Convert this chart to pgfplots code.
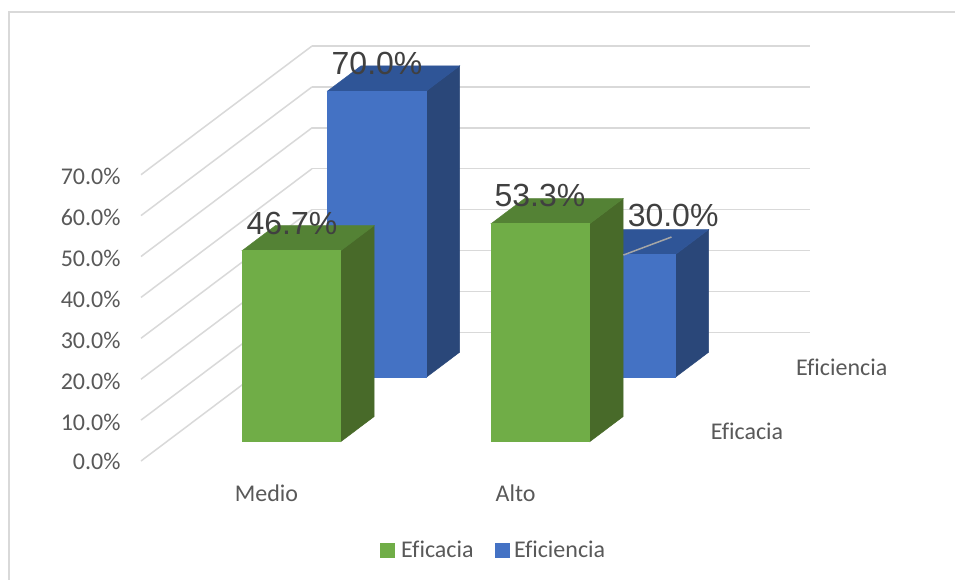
\documentclass[border=0pt]{standalone}
\usepackage{fontspec}
\usepackage{pgfplots}
\pgfplotsset{compat=1.18}
\setmainfont[Ligatures=NoCommon]{Carlito}
\newfontfamily\labelfont{Liberation Sans}
\definecolor{gridgray}{HTML}{D9D9D9}
\definecolor{textgray}{HTML}{595959}
\definecolor{labelgray}{HTML}{404040}
\definecolor{leadergray}{HTML}{A6A6A6}
\definecolor{greenfront}{HTML}{70AD47}
\definecolor{greentop}{HTML}{548235}
\definecolor{greenside}{HTML}{486A29}
\definecolor{bluefront}{HTML}{4472C4}
\definecolor{bluetop}{HTML}{2F5597}
\definecolor{blueside}{HTML}{2A4779}
% One three-dimensional bar: #1 left x, #2 front depth, #3 height, #4 colour prefix
\newcommand{\threedbar}[4]{%
  \pgfmathsetmacro{\xr}{#1+0.396}%
  \pgfmathsetmacro{\yb}{#2+0.195}%
  \edef\barfaces{%
    \noexpand\addplot3[forget plot,draw=#4side,line width=0.5pt,fill=#4side] coordinates {(\xr,#2,0) (\xr,\yb,0) (\xr,\yb,#3) (\xr,#2,#3)} --cycle;
    \noexpand\addplot3[forget plot,draw=#4top,line width=0.5pt,fill=#4top] coordinates {(#1,#2,#3) (\xr,#2,#3) (\xr,\yb,#3) (#1,\yb,#3)} --cycle;
    \noexpand\addplot3[forget plot,draw=#4front,line width=0.5pt,fill=#4front] coordinates {(#1,#2,0) (\xr,#2,0) (\xr,#2,#3) (#1,#2,#3)} --cycle;
  }%
  \barfaces
}
\begin{document}
\begin{tikzpicture}[x=1pt,y=1pt]
  \path[use as bounding box,fill=white] (0,0) rectangle (955,-580);
  \draw[gridgray,line width=1.5pt] (9,-580) -- (9,-12) -- (955,-12);
  \begin{axis}[
    at={(141pt,-461pt)}, anchor=origin,
    x={(249pt,0pt)}, y={(171pt,128.7pt)}, z={(0pt,4.09pt)},
    xmin=0, xmax=2, ymin=0, ymax=1, zmin=0, zmax=70,
    clip=false,
    axis line style={draw=none},
    major tick style={draw=none},
    zmajorgrids=true,
    major grid style={gridgray,line width=1.5pt},
    xtick={0.5,1.5}, xticklabels={Medio,Alto},
    ytick={0.235,0.765}, yticklabels={Eficacia,Eficiencia},
    ztick={0,10,...,70},
    zticklabels={0.0\%,10.0\%,20.0\%,30.0\%,40.0\%,50.0\%,60.0\%,70.0\%},
    tick label style={font=\fontsize{24}{26}\selectfont,text=textgray},
    xticklabel style={xshift=7pt,yshift=-20pt},
    yticklabel style={xshift=44pt,yshift=23.5pt},
    zticklabel style={xshift=-17pt,yshift=9pt},
    legend style={at={(axis cs:1.4157,0,-21.7)},anchor=center,draw=none,fill=none,
      legend columns=2,font=\fontsize{24}{26}\selectfont,text=textgray,
      /tikz/column 1/.style={column sep=5pt},
      /tikz/column 2/.style={column sep=19pt},
      /tikz/column 3/.style={column sep=3pt}},
    legend image code/.code={\fill[#1] (0pt,-7pt) rectangle (14pt,7pt);},
  ]
    \addlegendimage{greenfront}
    \addlegendimage{bluefront}
    \legend{Eficacia,Eficiencia}

    % Rear row: Eficiencia
    \threedbar{0.303}{0.65}{70.0}{blue}
    \threedbar{1.303}{0.65}{30.0}{blue}
    % Front row: Eficacia
    \threedbar{0.303}{0.15}{46.7}{green}
    \threedbar{1.303}{0.15}{53.3}{green}

    % Leader line of the 30.0% label
    \addplot3[forget plot,leadergray,line width=1.5pt] coordinates {(1.493,0.647,30) (1.59,0.787,30)};

    \begin{scope}[every node/.style={font=\labelfont\fontsize{32}{34}\selectfont,text=labelgray}]
      \node at (axis cs:0.948,0,97.3) {70.0\%};
      \node at (axis cs:0.606,0,58.0) {46.7\%};
      \node at (axis cs:1.602,0,64.8) {53.3\%};
      \node at (axis cs:2.137,0,60.0) {30.0\%};
    \end{scope}
  \end{axis}
\end{tikzpicture}
\end{document}
